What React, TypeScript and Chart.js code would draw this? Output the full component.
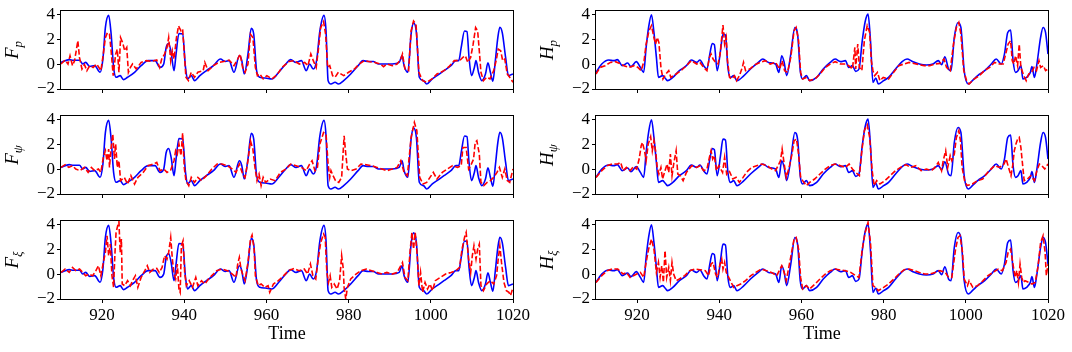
import React, { useEffect, useRef } from 'react';
import { Chart, registerables } from 'chart.js';
Chart.register(...registerables);

const X_MIN = 910;
const X_MAX = 1020;
const Y_MIN = -2;
const Y_MAX = 4.25;
const X_TICKS = [920, 940, 960, 980, 1000, 1020];
const Y_TICKS = [-2, 0, 2, 4];

// Ground truth (blue) for F panels: [time, value]
const F_TRUE: [number, number][] = [
  [910, 0.13], [912, 0.35], [913, 0.3], [914.5, 0.3], [915.3, 0], [916, 0.13], [917, -0.2], [918.2, -0.13],
  [919.5, -0.66], [920.2, 0.4], [920.8, 2.92], [921.6, 3.9], [922.2, 2.4], [922.8, -0.27], [923.4, -1.06],
  [924.4, -0.93], [925.2, -1.25], [926.2, -1.06], [927.9, -0.66], [929.5, -0.13], [931.2, 0.27], [932.9, 0.27],
  [934.1, -0.27], [935, 0], [935.6, 1.33], [936.2, 1.65], [936.8, 0.93], [937.5, -0.53], [938, 0.8],
  [938.7, 2.45], [939.6, 2.4], [940.3, -0.27], [940.8, -1.2], [941.7, -0.93], [942.5, -1.33], [943.8, -0.93],
  [945.4, -0.53], [947.1, -0.13], [948.8, 0.4], [950, 0.2], [950.9, 0.27], [952.1, -0.66], [953.4, 0.66],
  [954, 0.27], [954.6, -0.8], [955.5, 0.8], [956.3, 2.86], [956.9, 2.4], [957.6, -0.53], [958.4, -1.06],
  [959.7, -1.12], [961.3, -1.2], [963, -0.66], [964.7, 0], [965.9, 0.35], [967.2, 0.13], [968.5, 0.27],
  [969.7, -0.53], [970.5, 0], [971.4, -0.4], [972.2, 0.27], [973, 2.65], [974, 3.9], [974.5, 2.65],
  [975, -1.33], [975.7, -1.6], [976.7, -1.46], [977.5, -1.6], [978.8, -1.33], [980.5, -0.8], [982.3, -0.13],
  [983.5, 0.27], [984.8, 0.2], [986, 0.2], [987.3, 0], [989, 0], [990.6, 0], [992.3, 0.13], [993, 0.66],
  [993.5, -0.13], [994.4, -0.66], [995.2, 2.4], [995.8, 3.3], [996.5, 2.5], [997.2, -1.06], [998.2, -1.33],
  [999, -1.6], [1000.3, -1.2], [1001.5, -0.93], [1003.2, -0.53], [1004.9, -0.13], [1006.1, 0.27],
  [1006.8, 0.27], [1007.4, 1.33], [1008.2, 2.65], [1008.8, 2.6], [1009.3, 0.53], [1009.9, -0.93],
  [1010.6, -0.27], [1011, 0.27], [1011.6, -0.66], [1012.4, -1.33], [1013.3, -0.8], [1013.9, 0.1],
  [1014.5, -0.66], [1015.1, -1.38], [1015.7, 0.27], [1016.3, 2.1], [1016.8, 2.95], [1017.4, 2.5],
  [1018.2, 0.53], [1018.9, -0.93], [1019.5, -0.85], [1020, -0.8],
];

// Ground truth (blue) for H panels
const H_TRUE: [number, number][] = [
  [910, -0.67], [911.4, 0], [913.1, 0.32], [914.3, 0.27], [915.2, 0.35], [916.4, -0.13], [917.7, 0.08],
  [918.5, -0.21], [919.8, 0.19], [920.8, -0.27], [921.6, -0.67], [922.2, 1.33], [922.8, 2.93], [923.5, 3.95],
  [924.1, 2.53], [924.7, 0.53], [925.2, -1.07], [926.2, -0.93], [927, -1.2], [927.4, -1.33], [928.7, -1.07],
  [930.3, -0.53], [932, -0.13], [933.2, 0.32], [934.5, 0.13], [935.3, 0.32], [936.2, -0.13], [937, -0.4],
  [937.7, 0.8], [938.3, 1.65], [938.8, 1.55], [939.5, -0.53], [940.3, 1.07], [940.9, 2.4], [941.5, 2.32],
  [942.1, -0.27], [942.7, -1.07], [943.5, -0.93], [944.3, -1.33], [946, -0.93], [947.6, -0.4], [949.5, 0.13],
  [950.6, 0.4], [952, 0.13], [953.7, 0], [954.5, -0.67], [955.2, 0.67], [955.8, 0.13], [956.4, -0.93],
  [957.4, 0.8], [958.4, 2.93], [959.1, 2.27], [959.7, -0.53], [960.3, -1.2], [961.2, -0.93], [962, -1.33],
  [963.7, -1.07], [965.3, -0.4], [967, 0.13], [968.2, 0.4], [969.5, 0.19], [970.7, 0.27], [971.5, -0.27],
  [972.4, -0.13], [973.2, -0.59], [974, -0.4], [974.8, 1.87], [975.5, 3.39], [976.2, 4.0], [976.8, 1.87],
  [977.4, -1.47], [978.1, -1.12], [978.7, -1.6], [980, -1.33], [981.2, -1.07], [982.9, -0.4], [984.5, 0.19],
  [985.7, 0.4], [987, 0.21], [988.7, 0], [990.4, -0.08], [992, 0], [993.3, 0.27], [994.1, -0.05],
  [994.9, 0.59], [995.8, -0.4], [996.4, -0.53], [997.2, 2.13], [998.1, 3.33], [998.8, 2.93], [999.6, -0.53],
  [1000.6, -1.6], [1001.6, -1.33], [1002.9, -0.93], [1004.6, -0.53], [1006.2, 0], [1007.4, 0.4],
  [1008.6, 0], [1009.4, 0.8], [1010.2, 2.53], [1010.9, 2.72], [1011.5, 0.27], [1012.1, -0.67],
  [1012.7, -0.53], [1013.4, -0.13], [1013.9, -1.2], [1014.8, -1.07], [1015.7, -0.67], [1016.1, -0.21],
  [1016.7, -1.07], [1017.3, 0], [1018.2, 2.13], [1018.8, 2.93], [1019.4, 2.53], [1020, 0.8],
];

// Predictions (red dashed)
const FP_PRED: [number, number][] = [
  [910, 0], [911, 0.32], [911.7, 0], [912.2, 0.66], [912.8, -0.13], [913.3, 0.27], [914.1, 1.86], [914.5, 0.53],
  [915.1, -0.4], [915.7, -0.05], [916.3, -0.53], [917, -0.13], [917.8, -0.27], [918.7, 0], [919.7, -0.53],
  [920.3, 0.8], [920.8, 2.12], [921.3, 2.52], [921.8, 2.39], [922.2, 1.06], [922.7, -0.93], [923.3, 0.8],
  [923.7, 1.19], [924.1, -0.66], [924.5, 2.12], [925, 1.72], [925.5, 1.06], [926, 1.33], [926.4, -0.66],
  [926.9, -0.27], [927.4, 0], [928.3, -0.4], [929.5, 0.13], [930.8, 0.27], [932, 0.21], [933.3, 0.32],
  [934, -0.27], [934.5, 0.4], [935.2, 0.8], [935.8, 1.33], [936.2, 2.12], [936.7, 0.27], [937.1, 1.06],
  [937.5, 0.4], [938.1, 2.12], [938.6, 3.05], [939.2, 2.65], [939.6, 2.79], [940.1, 0.4], [940.4, -1.06],
  [941, -1.33], [941.7, -0.66], [942.5, -1.06], [943.3, -0.66], [944.6, -0.53], [945, 0.13], [945.8, -0.53],
  [947.1, -0.13], [948.4, 0.13], [949.6, 0.21], [950.9, 0.32], [952.1, -0.13], [953, 0.4], [953.6, 0.8],
  [954.2, -0.27], [954.8, -0.66], [955.5, 0], [956.1, 2.39], [956.7, 2.12], [957.3, -0.27], [957.8, -0.93],
  [958.4, -0.8], [959.2, -1.19], [960.1, -0.93], [961.3, -1.19], [962.6, -0.85], [963.8, -0.27], [965.5, 0.21],
  [966.7, 0.27], [968, 0], [969.3, 0.13], [970.1, -0.13], [970.8, 0.8], [971.4, 0.27], [972.1, -0.27],
  [972.6, 1.06], [973.2, 2.92], [973.9, 3.4], [974.4, 2.39], [974.9, -0.27], [975.4, -0.13], [976.1, -0.93],
  [976.7, -1.06], [977.5, -0.66], [978.8, -0.93], [980, -0.66], [981.4, -0.4], [982.6, 0], [983.8, 0.27],
  [985.1, 0.19], [986.4, 0.13], [987.7, 0], [988.5, -0.21], [989.3, 0], [990.6, -0.13], [991.8, 0],
  [992.7, 0.4], [993.1, 0.8], [993.7, -0.4], [994.6, -0.53], [995.2, 2.65], [995.8, 3.45], [996.4, 3.18],
  [997.1, -0.66], [998, -1.33], [999, -1.46], [1000.3, -1.19], [1001.5, -0.8], [1003.2, -0.53], [1004.4, -0.21],
  [1005.7, 0.27], [1007, 0.27], [1007.8, 0.53], [1008.4, 0.66], [1009, 0.13], [1009.7, 0.53], [1010.3, 1.59],
  [1010.9, 2.92], [1011.4, 2.65], [1011.8, 1.06], [1012.2, -0.66], [1012.8, -1.33], [1013.6, -1.06],
  [1014.4, -1.19], [1015.3, -0.53], [1015.9, 0.27], [1016.4, 1.19], [1017, 1.06], [1017.5, 0.27], [1018, 0.4],
  [1018.6, -0.8], [1019.2, -1.06], [1020, -1.46],
];

const FPSI_PRED: [number, number][] = [
  [910, 0.13], [911, 0.35], [911.9, 0.13], [912.8, 0.27], [913.6, 0], [914.6, -0.13], [915.7, 0.13],
  [916.6, -0.27], [917.4, 0.13], [918.2, -0.13], [919.1, 0], [919.7, -0.27], [920.3, 0.93], [920.8, 1.47],
  [921.2, 0.67], [921.6, 1.6], [921.8, 0.13], [922.2, 1.73], [922.6, 2.8], [923, 0.8], [923.3, 2.0],
  [923.7, 0.13], [924.1, 0.67], [924.5, -0.93], [925.4, -0.67], [926.2, -1.2], [927, -0.53], [927.9, -1.2],
  [928.7, -0.67], [930, -0.27], [931.2, 0.27], [932.5, 0.4], [933.3, 0.53], [934.1, -0.13], [935, 0],
  [935.8, -0.27], [936.7, -0.08], [937.5, 0.67], [937.9, 1.47], [938.3, 1.2], [938.7, 2.0], [939.2, 1.07],
  [939.6, 2.88], [940, 0.13], [940.4, -0.93], [941.1, -1.33], [941.7, -0.67], [942.5, -1.07], [943.3, -0.67],
  [944.2, -0.93], [945.4, -0.53], [946.7, 0], [948, 0.4], [949.2, 0.4], [950.5, 0.27], [951.7, 0],
  [952.6, -0.27], [953.4, 0.4], [954.2, -0.4], [954.8, -0.67], [955.5, 0.67], [956.1, 2.27], [956.7, 1.6],
  [957.2, 0.13], [957.7, -0.93], [958.2, -0.4], [958.7, -1.33], [959.2, -0.67], [959.8, -1.07], [960.9, -0.8],
  [962.1, -0.93], [963.4, -0.27], [964.7, 0], [965.9, 0.4], [967.2, 0.27], [968.5, 0.13], [969.7, -0.13],
  [970.5, 0.4], [971.1, 0.67], [971.8, -0.13], [972.4, 0.13], [973, 2.0], [973.9, 2.93], [974.5, 2.8],
  [975, 0.4], [975.4, -0.67], [975.7, -0.13], [976.2, -0.53], [976.8, -0.93], [977.6, -1.07], [978.3, -0.67],
  [978.9, 2.67], [979.3, 1.2], [979.7, 0], [980.5, -0.13], [981.8, 0], [983, 0.4], [984.3, 0.35],
  [985.6, 0.27], [986.9, 0.13], [988.1, 0], [989.3, -0.13], [990.6, 0], [991.8, 0.13], [992.7, 0.67],
  [993.5, -0.27], [994.3, -0.53], [995.2, 2.53], [996, 3.73], [996.6, 3.07], [997.3, -0.67], [998.1, -1.2],
  [999, -1.07], [999.8, -0.67], [1000.6, -0.27], [1001.5, -0.8], [1002.8, -0.27], [1004, 0], [1005.3, 0.27],
  [1006.5, 0.13], [1007.4, 0.27], [1007.8, 1.73], [1008.6, 1.73], [1009.2, 0], [1009.7, 0.27], [1010.4, 0.8],
  [1010.8, 2.13], [1011.2, 2.27], [1011.8, 1.2], [1012.2, -1.07], [1012.9, -1.33], [1013.7, -1.07],
  [1014.5, -0.93], [1015.3, -0.67], [1016.1, -0.27], [1016.7, 0.13], [1017.4, -0.67], [1018, 0],
  [1018.6, -0.93], [1019.2, -1.07], [1020, 0],
];

const FXI_PRED: [number, number][] = [
  [910, 0.13], [911, 0.4], [912, 0.13], [912.8, 0.53], [913.6, 0.27], [914.5, 0.4], [915.3, 0.13], [916, -0.13],
  [916.8, 0], [917.7, -0.13], [918.5, 0.27], [919.1, 0.67], [919.7, -0.13], [920.3, 0.93], [920.8, 1.73],
  [921.2, 3.07], [921.6, 1.47], [922, 2.4], [922.4, -0.13], [922.8, -1.07], [923.1, 1.47], [923.4, 3.33],
  [923.8, 3.87], [924.1, 4.19], [924.4, 1.73], [924.7, 2.8], [924.9, -0.8], [925.5, -0.93], [926.2, -0.53],
  [926.9, -0.93], [927.4, -0.53], [928.1, -0.13], [928.7, -1.07], [929.5, -0.27], [930.4, 0.27], [931, 0.67],
  [931.6, 0.13], [932.5, 0.4], [933.3, 0.45], [933.9, 0.13], [934.6, 0.53], [935.2, 1.47], [935.8, 1.2],
  [936.2, 1.73], [936.7, 2.93], [937.1, 1.2], [937.5, 0], [937.9, -0.4], [938.3, 0.8], [938.7, -1.2],
  [939, -1.47], [939.3, 2.27], [939.7, 2.67], [940.1, 0.13], [940.5, -0.93], [941.2, -0.53], [942, -1.07],
  [942.8, -0.27], [943.3, -0.93], [944.2, -0.53], [945, -0.8], [945.9, -0.4], [946.7, -0.13], [947.9, 0.27],
  [949.2, 0.4], [950.5, 0.27], [951.7, 0], [952.6, -0.27], [953, 0.8], [953.4, 1.33], [953.8, 0.4], [954.2, 0],
  [954.8, -0.53], [955.5, 0.93], [956.1, 2.8], [956.5, 3.12], [957, 2.0], [957.3, -0.13], [958, -0.93],
  [958.7, -0.8], [959.6, -1.07], [960.4, -0.93], [960.8, -1.47], [961.7, -0.8], [962.9, -0.53], [964.2, -0.13],
  [965.4, 0.27], [966.7, 0.45], [967.9, 0.27], [969.2, 0.4], [970, 0], [970.7, 0.8], [971.3, -0.13],
  [972, -0.4], [972.6, 1.2], [973.2, 2.53], [973.9, 3.2], [974.3, 2.93], [974.7, 0.13], [975.1, -0.67],
  [975.5, -0.13], [975.9, -1.07], [976.5, -0.8], [977.2, -1.2], [977.8, -0.53], [978.3, 1.47], [978.7, 0.4],
  [978.9, -1.07], [979.3, -2.0], [979.7, -1.07], [980.5, -0.4], [981.8, 0], [983, 0.27], [984.3, 0.4],
  [985.6, 0.27], [986.9, 0.13], [988.1, 0], [989.3, 0.13], [990.6, 0], [991.8, 0.13], [992.7, 0.67],
  [993.1, 0.93], [993.7, -0.27], [994.4, -0.53], [995, 2.0], [995.4, 3.33], [995.8, 2.0], [996.2, 3.33],
  [996.7, 1.47], [997.1, -0.93], [997.5, 0.13], [998, -1.47], [998.6, -0.67], [999.2, -1.2], [999.8, -0.8],
  [1000.4, -1.33], [1001.1, -0.53], [1002.3, -0.27], [1003.6, 0], [1004.9, 0.13], [1006.1, 0.27],
  [1007, 0.53], [1007.6, 2.0], [1008.2, 2.93], [1008.6, 3.33], [1009.2, 1.2], [1009.7, 0.13], [1010.1, 1.47],
  [1010.5, 2.27], [1011, 1.2], [1011.4, 2.0], [1011.8, 2.4], [1012.2, -0.93], [1012.8, -1.33], [1013.6, -0.8],
  [1014.5, -0.53], [1015.3, -0.8], [1016, -0.13], [1016.4, 1.2], [1016.8, 2.27], [1017.2, 0.93],
  [1017.8, -0.67], [1018.4, -1.33], [1019, -1.47], [1019.4, -1.73], [1020, -1.07],
];

const HP_PRED: [number, number][] = [
  [910, -0.8], [911, -0.27], [912.2, -0.13], [913.5, 0.13], [914.7, 0.19], [915.8, 0.05], [916.8, -0.13],
  [918, -0.27], [919.3, -0.13], [920.2, -0.27], [921, -0.53], [921.7, 0.27], [922.2, 1.6], [922.9, 2.67],
  [923.5, 3.07], [924.1, 2.13], [924.5, 1.6], [924.9, 2.13], [925.3, 1.73], [925.8, -0.27], [926.3, -1.2],
  [927, -0.8], [927.7, -0.53], [928.2, -1.07], [929.5, -0.8], [930.7, -0.53], [932, -0.13], [933.2, 0.27],
  [934.5, 0], [935.3, 0.13], [936.2, -0.27], [937, -0.53], [937.6, 0.53], [938, 0.8], [938.5, 0.4],
  [939.1, 0.13], [939.7, 0], [940.2, 0.8], [940.6, 2.13], [940.9, 3.12], [941.3, 1.6], [941.7, 2.13],
  [942, 0.27], [942.5, -1.07], [943, -1.2], [943.7, -0.93], [944.2, -1.33], [944.9, -0.93], [945.6, -0.27],
  [945.9, 0.13], [946.4, -0.53], [947.4, -0.4], [948.7, -0.05], [949.9, 0.13], [951.2, 0.27], [952.4, 0],
  [953.7, 0.13], [954.7, -0.4], [955.3, 0.27], [955.9, -0.53], [956.6, -0.67], [957.4, 0.53], [958.2, 2.67],
  [958.7, 2.93], [959.3, 1.87], [959.8, -0.67], [960.3, -1.2], [961.2, -1.07], [962, -1.33], [963.3, -1.2],
  [964.5, -0.8], [965.8, -0.27], [967, 0], [968.2, 0.19], [969.5, 0], [970.7, 0], [971.5, -0.13],
  [972.4, -0.4], [973, 1.33], [973.2, -0.4], [973.7, 1.6], [974.1, -0.27], [974.7, -0.53], [975.3, 1.87],
  [976, 3.07], [976.6, 2.53], [977, 0.27], [977.4, -0.53], [977.8, -0.93], [978.5, -0.67], [979.1, -1.33],
  [979.9, -1.07], [981.2, -1.2], [982.4, -0.67], [983.7, -0.13], [984.9, 0], [986.2, 0.13], [987.4, 0.05],
  [988.7, -0.05], [989.9, -0.13], [991.2, -0.13], [992.4, 0], [993.7, 0.05], [994.7, 0.4], [995.3, -0.27],
  [996.2, -0.53], [997, 1.6], [997.7, 2.93], [998.3, 3.33], [998.8, 2.4], [999.5, -0.53], [1000.2, -1.33],
  [1000.8, -1.6], [1002, -1.2], [1003.3, -0.93], [1004.5, -0.53], [1005.8, -0.27], [1007, 0.13],
  [1008.2, 0], [1009.1, 0], [1009.7, 0.8], [1010.3, 1.6], [1010.9, 1.87], [1011.3, 0.27], [1011.7, 0],
  [1012.1, 0.67], [1012.6, -0.13], [1013, 1.6], [1013.4, -0.27], [1014.1, -0.93], [1014.7, -1.33],
  [1015.3, -0.8], [1016, -0.67], [1016.6, -0.27], [1017.2, -0.53], [1017.8, 0.27], [1018.2, -0.27],
  [1018.9, -0.13], [1019.4, -0.53], [1020, -0.4],
];

const HPSI_PRED: [number, number][] = [
  [910, -0.67], [911.4, -0.13], [912.7, 0.27], [913.9, 0.4], [915.3, 0.4], [916, 0.53], [916.6, -0.13],
  [917.4, 0.13], [918.3, -0.13], [919.1, 0.19], [919.9, 0], [920.5, 0.8], [921, 1.87], [921.3, 2.13],
  [921.8, 1.47], [922.2, 0.67], [922.7, 2.0], [923.3, 2.59], [923.7, 1.47], [924.1, 2.27], [924.5, 1.47],
  [924.9, 0.13], [925.3, -0.4], [925.8, 0.13], [926.2, -0.8], [926.8, -0.13], [927.3, 0.4], [927.7, -0.27],
  [928.1, 1.2], [928.5, -0.53], [928.9, 0.4], [929.5, 1.47], [929.9, -0.4], [930.5, -0.53], [931.2, -0.93],
  [932, -0.27], [933.3, 0.27], [934.5, 0.13], [935.3, 0.27], [936.2, -0.13], [937, 0], [937.6, 0.93],
  [938, 1.47], [938.4, 0.8], [938.8, 1.07], [939.3, -0.13], [939.9, 0.27], [940.8, -0.27], [941.3, 0.93],
  [941.8, -0.4], [942.4, -0.13], [943.3, -0.8], [944.1, -0.67], [944.9, -1.07], [945.8, -0.67], [946.6, -0.27],
  [947.9, 0.13], [949.1, 0.27], [950.3, 0.4], [951.6, 0.27], [952.8, 0], [953.7, -0.13], [954.5, 0.4],
  [954.9, 0.67], [955.3, 1.6], [955.8, 0.4], [956.3, -0.67], [957, 0.13], [957.7, 1.2], [958.2, 2.27],
  [958.8, 2.4], [959.3, 1.2], [959.8, -0.67], [960.3, -0.93], [961.2, -1.33], [962, -1.07], [963.2, -0.8],
  [964.5, -0.4], [965.8, 0], [967, 0.27], [968.2, 0.4], [969.5, 0.27], [970.7, 0.13], [971.6, 0.4],
  [972.4, 0], [973.2, -0.27], [974.1, -0.53], [974.7, 1.47], [975.3, 3.07], [976, 3.55], [976.6, 2.53],
  [977.2, -0.13], [977.7, -1.33], [978.3, -0.93], [979.1, -1.2], [980.3, -0.93], [981.6, -0.53],
  [982.9, -0.13], [984.1, 0.13], [985.4, 0.35], [986.6, 0.13], [987.9, 0.27], [989.1, -0.13], [990.4, 0],
  [991.6, -0.13], [992.5, 0.13], [993.3, 0.53], [994.1, -0.13], [994.5, 0.67], [995.1, 1.47], [995.6, 0.13],
  [996.2, 1.07], [996.6, 0.67], [997.2, 1.2], [997.7, 2.53], [998.3, 3.07], [998.7, 2.27], [999.1, 0.13],
  [999.7, -0.93], [1000.3, -1.33], [1001.6, -1.2], [1002.8, -0.93], [1004.1, -0.8], [1005.3, -0.27],
  [1007, 0.27], [1008.2, 0.13], [1009.3, 0.4], [1009.8, 0.8], [1010.4, 0.13], [1011, -0.53], [1011.4, 0.27],
  [1011.8, 1.47], [1012.2, 2.0], [1012.6, 2.4], [1013, 2.53], [1013.4, 1.73], [1013.8, 0.4], [1014.2, -0.93],
  [1015, -0.8], [1015.8, -0.53], [1016.7, -0.93], [1017.3, -0.13], [1017.9, 0.4], [1018.5, 0.27],
  [1019.2, 0], [1020, 0.4],
];

const HXI_PRED: [number, number][] = [
  [910, -0.67], [911.4, -0.13], [912.7, 0.27], [913.9, 0.4], [915.3, 0.4], [916.6, 0], [917.4, 0.13],
  [918.3, -0.27], [919.1, -0.13], [919.9, 0], [920.8, 0.13], [921.6, -0.27], [922.2, 0.93], [922.8, 2.0],
  [923.5, 2.8], [924.1, 2.0], [924.7, 0.13], [925.2, 0.93], [925.6, -0.27], [926, 0.67], [926.4, -0.67],
  [926.8, 1.87], [927.2, -0.27], [927.7, 0.53], [928.1, -0.53], [928.5, 0.93], [928.9, 0], [929.5, -0.53],
  [930.3, -0.4], [931.6, -0.13], [932.8, 0.27], [934.1, 0.4], [935.3, 0.35], [936.6, 0.27], [937.4, -0.13],
  [938, 0.8], [938.5, 0.93], [939.1, 0], [939.6, -0.27], [940.1, 0.67], [940.6, 1.2], [940.9, 0.4],
  [941.3, 0.93], [941.7, 0.13], [942.3, -0.27], [942.9, -0.67], [943.5, -1.07], [944.3, -0.93], [945.2, -0.8],
  [946.4, -0.53], [947.7, -0.13], [948.9, 0.13], [950.2, 0.4], [951.5, 0.27], [952.7, 0.13], [954, -0.13],
  [954.6, 0.27], [955.2, 0.67], [955.8, 0.13], [956.3, -0.53], [957.3, 1.2], [958.2, 2.8], [958.7, 2.93],
  [959.3, 2.0], [959.8, -0.27], [960.3, -1.2], [961.2, -0.93], [962, -1.2], [963.3, -0.8], [964.5, -0.4],
  [965.8, 0], [967, 0.27], [968.2, 0.4], [969.5, 0.32], [970.7, 0.27], [972, 0.13], [973.2, -0.13],
  [974, -0.27], [974.8, 2.0], [975.5, 3.33], [976.2, 4.13], [976.8, 2.53], [977.4, -0.93], [978, -1.07],
  [978.7, -1.33], [980, -1.07], [981.2, -0.8], [982.5, -0.4], [983.7, 0], [985, 0.35], [986.2, 0.4],
  [987.5, 0.27], [988.7, 0.13], [990, 0], [991.2, 0], [992.5, 0.13], [993.7, 0.27], [995, 0.13],
  [995.8, -0.27], [996.6, -0.27], [997.5, 2.0], [998.1, 2.93], [998.6, 3.07], [999.2, 1.73], [999.6, -0.4],
  [1000, -0.67], [1000.4, -0.93], [1000.8, -0.53], [1001.7, -1.07], [1002.9, -0.93], [1004.2, -0.53],
  [1005.4, -0.13], [1006.6, 0.13], [1007.9, 0.4], [1008.9, 0.27], [1009.8, 0.93], [1010.3, 1.73],
  [1010.9, 2.0], [1011.6, 0.53], [1012, -0.27], [1012.4, 0.27], [1012.8, -0.67], [1013.2, 0.8],
  [1013.6, -0.27], [1014, -0.67], [1014.4, -0.53], [1015.3, -0.67], [1016.1, -0.8], [1016.9, -0.67],
  [1017.6, 0.67], [1018.2, 2.53], [1018.8, 3.07], [1019.3, 1.73], [1019.6, -0.13], [1020, 0.8],
];

const PANELS = [
  { main: 'F', sub: 'p', truth: F_TRUE, pred: FP_PRED, col: 0, row: 0 },
  { main: 'H', sub: 'p', truth: H_TRUE, pred: HP_PRED, col: 1, row: 0 },
  { main: 'F', sub: 'ψ', truth: F_TRUE, pred: FPSI_PRED, col: 0, row: 1 },
  { main: 'H', sub: 'ψ', truth: H_TRUE, pred: HPSI_PRED, col: 1, row: 1 },
  { main: 'F', sub: 'ξ', truth: F_TRUE, pred: FXI_PRED, col: 0, row: 2 },
  { main: 'H', sub: 'ξ', truth: H_TRUE, pred: HXI_PRED, col: 1, row: 2 },
];

// Layout (pixels)
const COL_LEFT = [0, 535];
const ROW_TOP = [11, 116, 221];
const PLOT_H = 78;
const PLOT_W = 452;
const AXIS_W = 61;
const PAD_TOP = 10;
const PAD_RIGHT = 22;
const XAXIS_H_INNER = 17;
const XAXIS_H_BOTTOM = 53;
const FONT = '"Liberation Serif", "DejaVu Serif", serif';

const framePlugin = {
  id: 'frameLabel',
  afterDraw(chart: any, _args: any, opts: any) {
    const { ctx, chartArea: a } = chart;
    ctx.save();
    ctx.strokeStyle = '#000';
    ctx.lineWidth = 1;
    ctx.strokeRect(Math.round(a.left) - 0.5, Math.round(a.top) - 0.5,
      Math.round(a.right - a.left) + 1, Math.round(a.bottom - a.top) + 1);
    const cy = (a.top + a.bottom) / 2;
    ctx.translate(opts.baseX, cy);
    ctx.rotate(-Math.PI / 2);
    ctx.fillStyle = '#000';
    ctx.textAlign = 'left';
    ctx.textBaseline = 'alphabetic';
    const mainFont = `italic 19px ${FONT}`;
    const subFont = `italic 13px ${FONT}`;
    ctx.font = mainFont;
    const wM = ctx.measureText(opts.main).width;
    ctx.font = subFont;
    const wS = ctx.measureText(opts.sub).width;
    const x0 = -(wM + wS) / 2;
    ctx.font = mainFont;
    ctx.fillText(opts.main, x0, 0);
    ctx.font = subFont;
    ctx.fillText(opts.sub, x0 + wM, 4);
    ctx.restore();
  },
};

function Panel({ p }: { p: typeof PANELS[number] }) {
  const ref = useRef<HTMLCanvasElement | null>(null);
  const bottom = p.row === 2;
  const xh = bottom ? XAXIS_H_BOTTOM : XAXIS_H_INNER;
  const width = AXIS_W + PLOT_W + PAD_RIGHT;
  const height = PAD_TOP + PLOT_H + xh;

  useEffect(() => {
    if (!ref.current) return;
    const chart = new Chart(ref.current, {
      type: 'line',
      data: {
        datasets: [
          {
            data: p.pred.map(([x, y]) => ({ x, y })),
            borderColor: '#ff0000',
            borderWidth: 1.6,
            borderDash: [5.5, 2.4],
            pointRadius: 0,
            tension: 0,
            fill: false,
          },
          {
            data: p.truth.map(([x, y]) => ({ x, y })),
            borderColor: '#0000ff',
            borderWidth: 1.6,
            pointRadius: 0,
            cubicInterpolationMode: 'monotone',
            fill: false,
          },
        ],
      },
      options: {
        animation: false,
        responsive: false,
        events: [],
        layout: { padding: { top: PAD_TOP, right: PAD_RIGHT, left: 0, bottom: 0 } },
        plugins: {
          legend: { display: false },
          tooltip: { enabled: false },
          frameLabel: { main: p.main, sub: p.sub, baseX: 18 },
        } as any,
        scales: {
          x: {
            type: 'linear',
            min: X_MIN,
            max: X_MAX,
            border: { display: false },
            grid: { display: true, drawOnChartArea: false, drawTicks: true, tickLength: 4, color: '#000', lineWidth: 1 },
            ticks: {
              display: bottom,
              autoSkip: false,
              maxRotation: 0,
              padding: 2,
              color: '#000',
              font: { family: FONT, size: 17 },
              callback: (v: any) => String(v),
            },
            title: bottom
              ? { display: true, text: 'Time', color: '#000', font: { family: FONT, size: 18 }, padding: { top: 0, bottom: 7 } }
              : { display: false },
            afterBuildTicks: (s: any) => { s.ticks = X_TICKS.map((v) => ({ value: v })); },
            afterFit: (s: any) => { s.height = xh; s.paddingLeft = 0; s.paddingRight = 0; },
          },
          y: {
            type: 'linear',
            min: Y_MIN,
            max: Y_MAX,
            border: { display: false },
            grid: { display: true, drawOnChartArea: false, drawTicks: true, tickLength: 4, color: '#000', lineWidth: 1 },
            ticks: {
              padding: 2,
              color: '#000',
              font: { family: FONT, size: 17 },
              callback: (v: any) => (v < 0 ? '\u2212' + Math.abs(v) : String(v)),
            },
            afterBuildTicks: (s: any) => { s.ticks = Y_TICKS.map((v) => ({ value: v })); },
            afterFit: (s: any) => { s.width = AXIS_W; s.paddingTop = 0; s.paddingBottom = 0; },
          },
        },
      } as any,
      plugins: [framePlugin as any],
    });
    return () => chart.destroy();
  }, []);

  return (
    <canvas
      ref={ref}
      width={width}
      height={height}
      style={{ position: 'absolute', left: COL_LEFT[p.col], top: ROW_TOP[p.row] - PAD_TOP, width, height }}
    />
  );
}

export default function App() {
  return (
    <div style={{ position: 'fixed', left: 0, top: 0, width: 1072, height: 352, background: '#fff', overflow: 'hidden' }}>
      {PANELS.map((p, i) => (
        <Panel key={i} p={p} />
      ))}
    </div>
  );
}
